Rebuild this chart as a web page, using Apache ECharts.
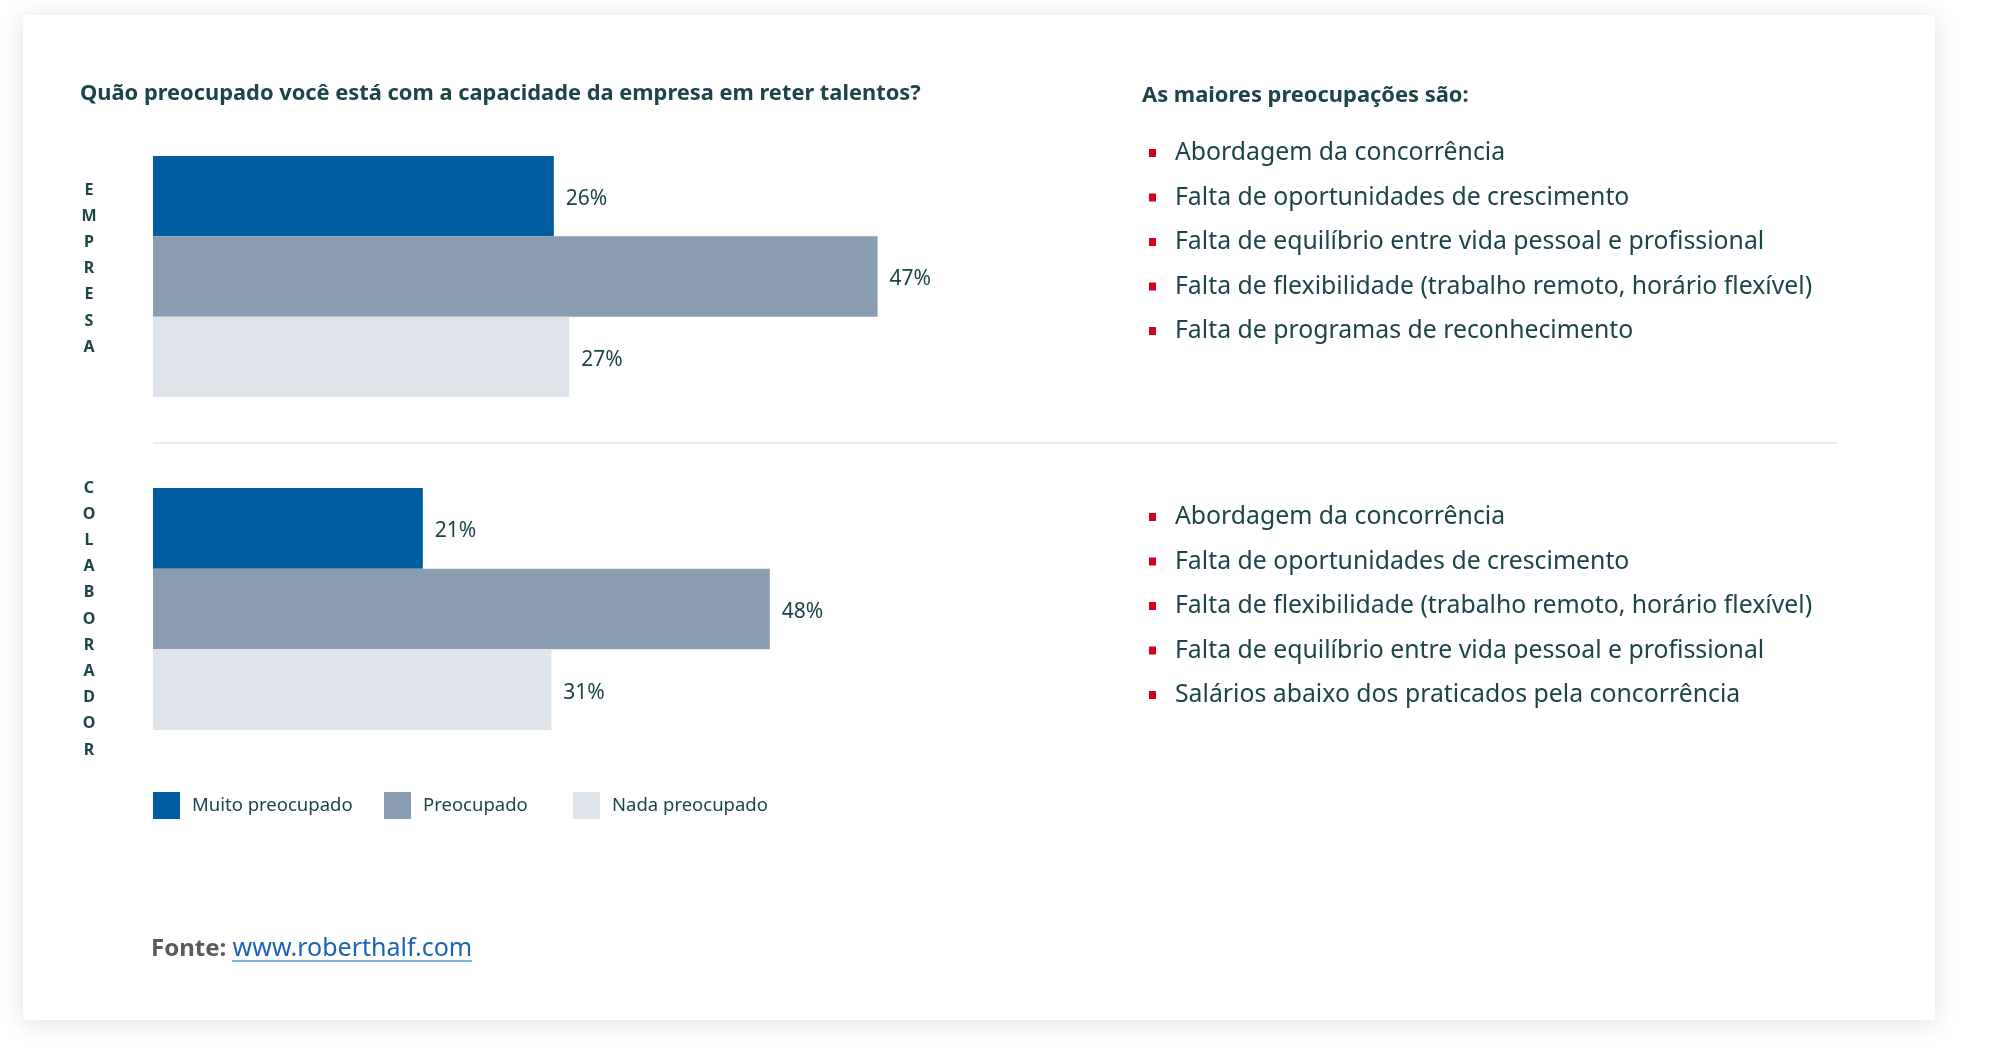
<!DOCTYPE html>
<html>
<head>
<meta charset="utf-8">
<script src="https://cdn.jsdelivr.net/npm/echarts@6/dist/echarts.min.js"></script>
<style>
html,body{margin:0;padding:0;background:#fff;}
#chart{width:2000px;height:1054px;}
</style>
</head>
<body>
<div id="chart"></div>
<script>
// ---- data ----
const title = 'Quão preocupado você está com a capacidade da empresa em reter talentos?';
const listTitle = 'As maiores preocupações são:';
const groups = ['EMPRESA', 'COLABORADOR'];
const levels = ['Muito preocupado', 'Preocupado', 'Nada preocupado'];
const empresaValues = [26, 47, 27];
const colaboradorValues = [21, 48, 31];
const empresaConcerns = [
  'Abordagem da concorrência',
  'Falta de oportunidades de crescimento',
  'Falta de equilíbrio entre vida pessoal e profissional',
  'Falta de flexibilidade (trabalho remoto, horário flexível)',
  'Falta de programas de reconhecimento'
];
const colaboradorConcerns = [
  'Abordagem da concorrência',
  'Falta de oportunidades de crescimento',
  'Falta de flexibilidade (trabalho remoto, horário flexível)',
  'Falta de equilíbrio entre vida pessoal e profissional',
  'Salários abaixo dos praticados pela concorrência'
];
const sourceLabel = 'Fonte:';
const sourceLink = 'www.roberthalf.com';

// ---- styles ----
const colors = ['#015da1', '#8a9db0', '#dfe3ea'];
const textColor = '#1d4549';
const font = '"Noto Sans", "Open Sans", sans-serif';

const chart = echarts.init(document.getElementById('chart'));

const groupValues = [empresaValues, colaboradorValues];
const gridDefs = [
  {left: 153, top: 156, width: 925, height: 241},
  {left: 153, top: 488, width: 771, height: 242}
];

const series = [];
groupValues.forEach((vals, g) => {
  vals.forEach((v, i) => {
    series.push({
      type: 'bar',
      name: levels[i],
      xAxisIndex: g,
      yAxisIndex: g,
      data: [v],
      barGap: '0%',
      barCategoryGap: '0%',
      itemStyle: {color: colors[i]},
      label: {
        show: true, position: 'right', distance: 12, offset: [0, 3],
        formatter: '{c}%', color: textColor, fontSize: 21,
        fontFamily: font
      },
      silent: true
    });
  });
});

const graphics = [];
// card
graphics.push({
  type: 'rect', z: -10, silent: true,
  shape: {x: 23, y: 15, width: 1912, height: 1005, r: 4},
  style: {fill: '#fff', shadowBlur: 24, shadowColor: 'rgba(0,0,0,0.13)', shadowOffsetY: 3}
});
// titles
graphics.push({type: 'text', left: 80, top: 83, style: {text: title, fontSize: 21.85, fontWeight: 'bold', fill: textColor, fontFamily: font}});
graphics.push({type: 'text', left: 1142, top: 85, style: {text: listTitle, fontSize: 21.9, fontWeight: 'bold', fill: textColor, fontFamily: font}});
// separator
graphics.push({type: 'line', shape: {x1: 153, y1: 443, x2: 1837, y2: 443}, style: {stroke: '#e4e4e4', lineWidth: 1.5}});
// vertical group labels
const groupLabelTop = [189, 487];
groups.forEach((gname, g) => {
  graphics.push({
    type: 'text', x: 89, y: groupLabelTop[g] - 12,
    style: {text: gname.split('').join('\n'), fontSize: 16, fontWeight: 'bold', lineHeight: 26.2,
      fill: textColor, fontFamily: font, align: 'center', verticalAlign: 'top'}
  });
});
// concern lists
const listTops = [153, 517];
[empresaConcerns, colaboradorConcerns].forEach((list, g) => {
  list.forEach((item, k) => {
    const cy = listTops[g] + k * 44.5;
    graphics.push({type: 'rect', shape: {x: 1149, y: cy - 4, width: 7, height: 8}, style: {fill: '#d4001d'}});
    graphics.push({type: 'text', x: 1175, y: cy, style: {text: item, fontSize: 24.8, fill: textColor, fontFamily: font, verticalAlign: 'middle'}});
  });
});
// source
graphics.push({
  type: 'text', x: 151, y: 949,
  style: {
    text: '{a|' + sourceLabel + '} {b|' + sourceLink + '}',
    verticalAlign: 'middle',
    rich: {
      a: {fontSize: 24, fontWeight: 'bold', fill: '#5b5b5b', fontFamily: font},
      b: {fontSize: 25, fill: '#1b63b6', fontFamily: font, padding: [0, 0, 0, 3]}
    }
  }
});
graphics.push({type: 'line', shape: {x1: 232, y1: 961, x2: 472, y2: 961}, style: {stroke: '#5a9ad6', lineWidth: 1.5}});

const option = {
  backgroundColor: '#ffffff',
  animation: false,
  grid: gridDefs.map(d => Object.assign({containLabel: false}, d)),
  xAxis: gridDefs.map((d, g) => ({type: 'value', gridIndex: g, min: 0, max: 60, show: false})),
  yAxis: gridDefs.map((d, g) => ({type: 'category', gridIndex: g, data: [groups[g]], show: false})),
  legend: [
    {left: 153, name: levels[0]},
    {left: 384, name: levels[1]},
    {left: 573, name: levels[2]}
  ].map(l => ({
    data: [l.name], left: l.left, top: 792, padding: 0, icon: 'rect', itemWidth: 27, itemHeight: 27,
    itemGap: 0, selectedMode: false,
    textStyle: {color: textColor, fontSize: 18.5, fontFamily: font, padding: [10, 0, 0, 7]}
  })),
  series: series,
  graphic: graphics
};
chart.setOption(option);
</script>
</body>
</html>
